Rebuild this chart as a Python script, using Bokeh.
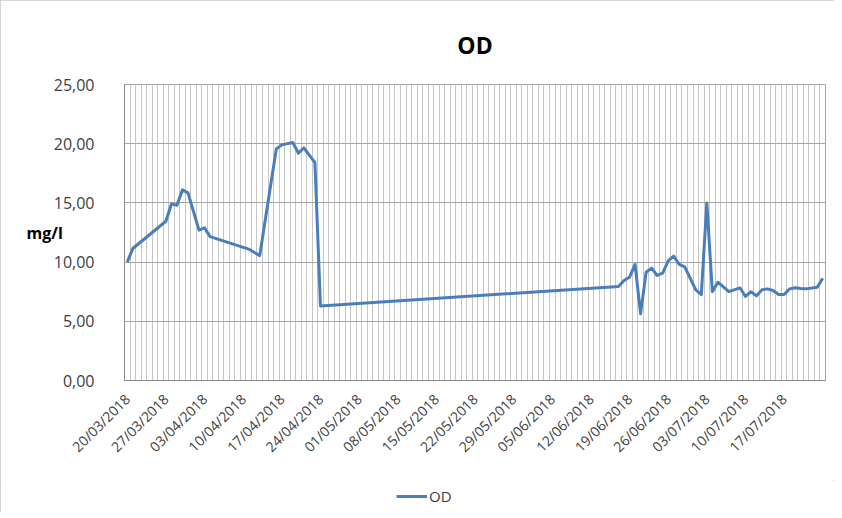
import math
import pandas as pd
from bokeh.plotting import figure
from bokeh.layouts import column
from bokeh.models import (ColumnDataSource, Range1d, FixedTicker, Legend, LegendItem,
                          DatetimeTickFormatter)
from bokeh.embed import file_html
from bokeh.resources import INLINE

# ---- data ----
dates = [
    "2018-03-20", "2018-03-21", "2018-03-27", "2018-03-28", "2018-03-29", "2018-03-30",
    "2018-03-31", "2018-04-02", "2018-04-03", "2018-04-04", "2018-04-11", "2018-04-13",
    "2018-04-16", "2018-04-17", "2018-04-19", "2018-04-20", "2018-04-21", "2018-04-23",
    "2018-04-24", "2018-06-17", "2018-06-18", "2018-06-19", "2018-06-20", "2018-06-21",
    "2018-06-22", "2018-06-23", "2018-06-24", "2018-06-25", "2018-06-26", "2018-06-27",
    "2018-06-28", "2018-06-29", "2018-07-01", "2018-07-02", "2018-07-03", "2018-07-04",
    "2018-07-05", "2018-07-07", "2018-07-09", "2018-07-10", "2018-07-11", "2018-07-12",
    "2018-07-13", "2018-07-14", "2018-07-15", "2018-07-16", "2018-07-17", "2018-07-18",
    "2018-07-19", "2018-07-20", "2018-07-21", "2018-07-23", "2018-07-24",
]
od_values = [
    10.00, 11.15, 13.45, 14.90, 14.80, 16.10,
    15.85, 12.70, 12.90, 12.15, 11.10, 10.55,
    19.55, 19.90, 20.10, 19.20, 19.65, 18.40,
    6.30, 7.94, 8.45, 8.73, 9.80, 5.63,
    9.15, 9.49, 8.87, 9.06, 10.10, 10.50,
    9.80, 9.60, 7.65, 7.25, 15.00, 7.50,
    8.30, 7.50, 7.83, 7.10, 7.50, 7.15,
    7.66, 7.74, 7.60, 7.26, 7.26, 7.74,
    7.83, 7.77, 7.74, 7.88, 8.64,
]
axis_first_day = "2018-03-20"
axis_last_day = "2018-07-24"
x_tick_dates = [
    "2018-03-20", "2018-03-27", "2018-04-03", "2018-04-10", "2018-04-17", "2018-04-24",
    "2018-05-01", "2018-05-08", "2018-05-15", "2018-05-22", "2018-05-29", "2018-06-05",
    "2018-06-12", "2018-06-19", "2018-06-26", "2018-07-03", "2018-07-10", "2018-07-17",
]
x_tick_labels = [
    "20/03/2018", "27/03/2018", "03/04/2018", "10/04/2018", "17/04/2018", "24/04/2018",
    "01/05/2018", "08/05/2018", "15/05/2018", "22/05/2018", "29/05/2018", "05/06/2018",
    "12/06/2018", "19/06/2018", "26/06/2018", "03/07/2018", "10/07/2018", "17/07/2018",
]
y_ticks = [0, 5, 10, 15, 20, 25]
y_tick_labels = ["0,00", "5,00", "10,00", "15,00", "20,00", "25,00"]
series_name = "OD"
y_label = "mg/l"
title_text = "OD"

FONT = "Open Sans"
LINE_COLOR = "#4a7ebb"


def to_ms(s):
    return pd.Timestamp(s).value / 1e6


DAY = 86400000.0
half = DAY / 2

source = ColumnDataSource(dict(x=pd.to_datetime(dates), y=od_values))

x_start = to_ms(axis_first_day) - half
x_end = to_ms(axis_last_day) + half

p = figure(width=834, height=480, output_backend="svg", toolbar_location=None,
           x_axis_type="datetime",
           x_range=Range1d(x_start, x_end), y_range=Range1d(0, 25),
           min_border_left=124, min_border_right=9, min_border_top=84, min_border_bottom=100)

p.background_fill_color = "white"
p.border_fill_color = "white"
p.outline_line_color = "#a6a6a6"

# title
p.title.text = title_text
p.title.align = "center"
p.title.text_font = FONT
p.title.text_font_size = "23px"
p.title.text_font_style = "bold"
p.title.text_color = "#000000"
p.title.standoff = 48

# daily gridlines (day boundaries) as minor ticks
n_days = int(round((x_end - x_start) / DAY))
boundaries = [x_start + i * DAY for i in range(n_days + 1)]
tick_ms = [to_ms(d) for d in x_tick_dates]
p.xaxis.ticker = FixedTicker(ticks=tick_ms, minor_ticks=boundaries)
p.xaxis.formatter = DatetimeTickFormatter(days="%d/%m/%Y", months="%d/%m/%Y", years="%d/%m/%Y")
p.xaxis.major_label_overrides = {t: lab for t, lab in zip(tick_ms, x_tick_labels)}
p.xaxis.major_label_orientation = math.pi / 4
p.xaxis.major_label_text_font = FONT
p.xaxis.major_label_text_font_size = "14px"
p.xaxis.major_label_text_color = "#404040"
p.xaxis.major_tick_line_color = None
p.xaxis.minor_tick_line_color = None
p.xaxis.axis_line_color = "#8c8c8c"
p.xaxis.major_label_standoff = 10

p.xgrid.grid_line_color = None
p.xgrid.minor_grid_line_color = "#c6c6c6"
p.xgrid.minor_grid_line_width = 1

p.yaxis.ticker = FixedTicker(ticks=y_ticks)
p.yaxis.major_label_overrides = {t: lab for t, lab in zip(y_ticks, y_tick_labels)}
p.yaxis.major_label_text_font = FONT
p.yaxis.major_label_text_font_size = "16px"
p.yaxis.major_label_text_color = "#404040"
p.yaxis.major_tick_line_color = None
p.yaxis.minor_tick_line_color = None
p.yaxis.axis_line_color = "#8c8c8c"
p.yaxis.major_label_standoff = 24
p.ygrid.grid_line_color = "#a6a6a6"
p.ygrid.grid_line_width = 1

# y label, horizontal like Excel
p.yaxis.axis_label = y_label
p.yaxis.axis_label_text_font = FONT
p.yaxis.axis_label_text_font_size = "16px"
p.yaxis.axis_label_text_font_style = "bold"
p.yaxis.axis_label_text_color = "#000000"
p.yaxis.axis_label_standoff = -12
p.yaxis.axis_label_orientation = "horizontal"

p.line("x", "y", source=source, line_color=LINE_COLOR, line_width=3, line_join="round")

# legend strip below the chart (same series style; the stand-in renderer draws nothing)
lf = figure(width=834, height=32, output_backend="svg", toolbar_location=None,
            x_range=Range1d(0, 1), y_range=Range1d(0, 1),
            min_border_left=0, min_border_right=0, min_border_top=0, min_border_bottom=0)
lf.axis.visible = False
lf.grid.grid_line_color = None
lf.outline_line_color = None
lf.background_fill_color = "white"
lf.border_fill_color = "white"
legend_src = ColumnDataSource(dict(x=[float("nan")], y=[float("nan")]))
lr = lf.line("x", "y", source=legend_src, line_color=LINE_COLOR, line_width=3)
legend = Legend(items=[LegendItem(label=series_name, renderers=[lr])],
                location=(268, 2), orientation="horizontal",
                border_line_alpha=0, background_fill_alpha=0,
                label_text_font=FONT, label_text_font_size="15px", label_text_color="#404040",
                glyph_width=31, glyph_height=14, label_standoff=2, padding=4, margin=0)
lf.add_layout(legend, "center")

layout = column(p, lf, spacing=0,
                styles={"outline": "1px solid #c8c8c8", "outline-offset": "-1px"})

open("out.html", "w").write(file_html(layout, INLINE))
